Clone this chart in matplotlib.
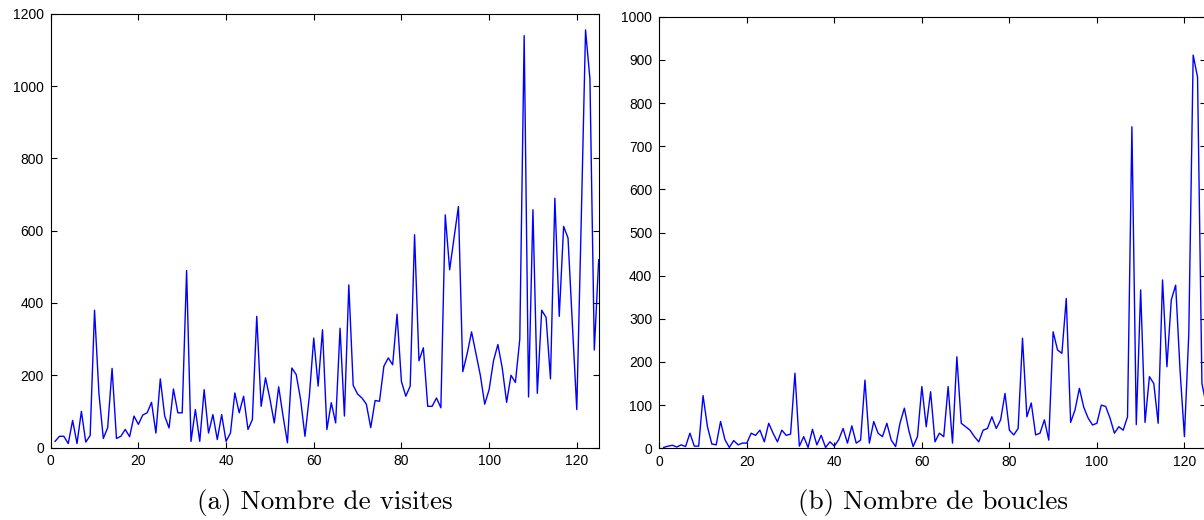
import matplotlib
matplotlib.use("Agg")
import matplotlib.pyplot as plt
import numpy as np

# Nombre de visites, indices 1..125
visites = [17, 31, 31, 11, 75, 11, 100, 15, 33, 380,
           150, 25, 55, 219, 25, 31, 50, 30, 87, 64,
           90, 96, 125, 40, 190, 87, 54, 162, 96, 96,
           490, 17, 105, 17, 160, 40, 91, 22, 91, 17,
           40, 151, 96, 142, 50, 77, 363, 114, 193, 135,
           68, 168, 87, 13, 220, 202, 133, 31, 142, 303,
           170, 326, 50, 124, 68, 330, 87, 450, 172, 148,
           137, 120, 55, 130, 128, 225, 248, 229, 369, 183,
           142, 170, 589, 240, 276, 114, 114, 137, 110, 644,
           492, 580, 667, 210, 260, 320, 260, 200, 120, 160,
           240, 285, 220, 125, 200, 180, 300, 1140, 140, 658,
           150, 380, 360, 190, 690, 363, 612, 580, 340, 105,
           620, 1156, 1020, 270, 520]

# Nombre de boucles, indices 1..125
boucles = [2, 5, 7, 3, 8, 4, 35, 5, 5, 122,
           50, 10, 8, 62, 20, 2, 18, 8, 12, 12,
           35, 30, 42, 15, 58, 35, 15, 42, 30, 33,
           174, 5, 27, 2, 44, 8, 30, 2, 15, 5,
           20, 46, 12, 52, 12, 19, 158, 12, 62, 35,
           27, 58, 19, 4, 58, 93, 42, 4, 27, 143,
           50, 131, 15, 35, 27, 143, 12, 212, 58, 50,
           42, 27, 15, 42, 46, 73, 46, 66, 127, 42,
           31, 46, 255, 73, 105, 31, 35, 66, 19, 270,
           228, 220, 347, 60, 89, 139, 95, 70, 54, 58,
           100, 97, 70, 35, 50, 42, 73, 745, 55, 367,
           60, 166, 150, 58, 390, 189, 344, 378, 181, 27,
           266, 911, 860, 150, 100]

captions = ["(a) Nombre de visites", "(b) Nombre de boucles"]
x_ticks = [0, 20, 40, 60, 80, 100, 120]

fig = plt.figure(figsize=(12.04, 5.2), dpi=100)

ax1 = fig.add_axes([50.7 / 1204, 72.5 / 520, 548 / 1204, 433.5 / 520])
ax2 = fig.add_axes([659.3 / 1204, 71.7 / 520, 547 / 1204, 431.6 / 520])

series = [(ax1, visites, 1200, 200), (ax2, boucles, 1000, 100)]
for ax, vals, ymax, ystep in series:
    x = np.arange(1, len(vals) + 1)
    ax.plot(x, vals, color="#0000ff", lw=1.0)
    ax.set_xlim(0, 125)
    ax.set_ylim(0, ymax)
    ax.set_xticks(x_ticks)
    ax.set_yticks(np.arange(0, ymax + 1, ystep))
    ax.tick_params(direction="in", top=True, right=True, length=4, width=0.8,
                   labelsize=10, pad=5, colors="black")
    for lab in ax.get_xticklabels() + ax.get_yticklabels():
        lab.set_fontfamily("Liberation Sans")
    for s in ax.spines.values():
        s.set_linewidth(0.8)

fig.text((50.7 + 274) / 1204, 1 - 503 / 520, captions[0], family="cmr10",
         fontsize=19.5, ha="center", va="center")
fig.text((659.3 + 274) / 1204, 1 - 503 / 520, captions[1], family="cmr10",
         fontsize=19.5, ha="center", va="center")

fig.savefig("out.png", dpi=100)
